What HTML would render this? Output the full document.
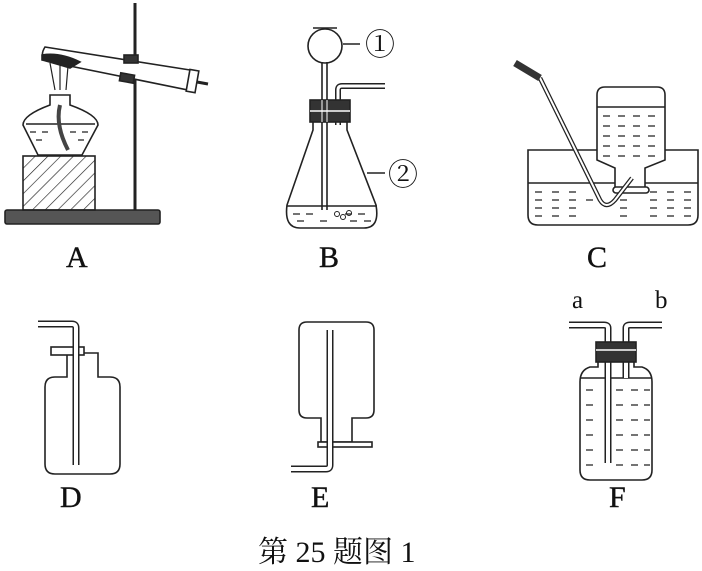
<!DOCTYPE html>
<html><head><meta charset="utf-8"><style>
html,body{margin:0;padding:0;background:#fff;}
svg{display:block}
text{font-family:"Liberation Serif","Noto Serif CJK SC",serif;fill:#111}
</style></head><body>
<svg width="702" height="571" viewBox="0 0 702 571" xmlns="http://www.w3.org/2000/svg">
<defs>
<pattern id="hatch" width="9" height="9" patternUnits="userSpaceOnUse" patternTransform="rotate(45)">
<line x1="0" y1="0" x2="0" y2="9" stroke="#222" stroke-width="1.3"/></pattern>
</defs>
<g fill="none" stroke="#222" stroke-width="1.6">
<!-- A -->
<rect x="5" y="210" width="155" height="14" fill="#555" rx="2"/>
<rect x="23" y="156" width="72" height="54" fill="url(#hatch)"/>
<line x1="135" y1="3" x2="135" y2="210" stroke-width="3"/>
<path d="M50 95 L70 95 L70 105 Q98 115 98 125 L82 155 L38 155 L23 125 Q23 115 50 105 Z" fill="#fff"/>
<line x1="26" y1="124" x2="95" y2="124"/>
<path d="M30 132h6M42 132h6M70 132h6M82 132h6M36 140h6M78 140h6" stroke-width="1.2"/>
<path d="M60 105 Q55 125 68 150" stroke-width="4" stroke="#444"/>
<path d="M45 47 L190 70 L188 90 L50 62 Q38 58 45 47 Z" fill="#fff"/>
<path d="M42 55 Q60 52 80 62 L70 68 Q50 62 42 60Z" fill="#222"/>
<path d="M50 63 L55 90 M60 64 L60 90 M68 66 L66 90" stroke-width="1.2"/>
<rect x="188" y="70" width="9" height="22" fill="#fff" transform="rotate(10 192 81)"/>
<line x1="197" y1="82" x2="208" y2="84" stroke-width="3"/>
<rect x="124" y="55" width="14" height="8" fill="#333"/>
<rect x="120" y="74" width="14" height="8" fill="#333" transform="rotate(10 127 78)"/>
<!-- B -->
<line x1="313" y1="28" x2="337" y2="28"/>
<circle cx="325" cy="46" r="17" fill="#fff"/>
<line x1="343" y1="44" x2="360" y2="44"/>
<path d="M313 122 L313 130 L287 205 Q284 228 300 228 L364 228 Q380 228 376 205 L347 130 L347 122" fill="#fff"/>
<line x1="287" y1="206" x2="377" y2="206"/>
<path d="M293 214h7M306 214h7M345 214h7M358 214h7M297 221h7M320 221h7M350 221h7M364 221h7" stroke-width="1.2"/>
<circle cx="337" cy="214" r="2.5" stroke-width="1"/><circle cx="343" cy="217" r="2.5" stroke-width="1"/><circle cx="349" cy="213" r="2.5" stroke-width="1"/>
<line x1="322" y1="62" x2="322" y2="210"/><line x1="327" y1="62" x2="327" y2="210"/>
<path d="M338 125 L338 90 Q338 86 342 86 L385 86" stroke-width="6"/>
<path d="M338 125 L338 90 Q338 86 342 86 L385 86" stroke="#fff" stroke-width="3"/>
<rect x="310" y="100" width="40" height="22" fill="#333"/>
<line x1="310" y1="111" x2="350" y2="111" stroke="#ccc" stroke-width="2"/>
<line x1="322" y1="100" x2="322" y2="122" stroke="#fff" stroke-width="1"/>
<line x1="327" y1="100" x2="327" y2="122" stroke="#fff" stroke-width="1"/>
<line x1="367" y1="173" x2="385" y2="173"/>
<!-- C -->
<path d="M528 150 L528 215 Q528 225 538 225 L688 225 Q698 225 698 215 L698 150 Z" fill="#fff"/>
<line x1="528" y1="183" x2="698" y2="183"/>
<path d="M597 160 L597 95 Q597 87 605 87 L657 87 Q665 87 665 95 L665 160 L645 168 L645 190 L615 190 L615 168 Z" fill="#fff"/>
<line x1="597" y1="107" x2="665" y2="107"/>
<g stroke-width="1.2">
<path d="M603 116h7M618 116h7M633 116h7M648 116h7M603 126h7M618 126h7M633 126h7M648 126h7M603 136h7M618 136h7M633 136h7M648 136h7M603 146h7M618 146h7M633 146h7M648 146h7M603 156h7M618 156h7M633 156h7M648 156h7"/>
<path d="M535 192h7M552 192h7M569 192h7M650 192h7M667 192h7M684 192h7M535 200h7M552 200h7M569 200h7M586 200h7M620 200h7M650 200h7M667 200h7M684 200h7M535 208h7M552 208h7M569 208h7M620 208h7M650 208h7M667 208h7M684 208h7M535 216h7M552 216h7M569 216h7M620 216h7M650 216h7M667 216h7M684 216h7"/>
</g>
<rect x="613" y="187" width="36" height="6" rx="3" fill="#fff"/>
<path d="M540 78 L600 200 Q606 210 615 200 L632 178" stroke-width="4.5"/>
<path d="M540 78 L600 200 Q606 210 615 200 L632 178" stroke="#fff" stroke-width="2"/>
<path d="M515 63 L540 78" stroke="#333" stroke-width="7"/>
<!-- D -->
<path d="M67 353 L67 377 L55 377 Q45 377 45 387 L45 464 Q45 474 55 474 L110 474 Q120 474 120 464 L120 387 Q120 377 110 377 L98 377 L98 353 Z" fill="#fff"/>
<rect x="51" y="347" width="33" height="8" fill="#fff"/>
<path d="M76 465 L76 328 Q76 324 72 324 L38 324" stroke-width="7"/>
<path d="M76 465 L76 328 Q76 324 72 324 L38 324" stroke="#fff" stroke-width="4"/>
<!-- E -->
<path d="M299 330 Q299 322 307 322 L366 322 Q374 322 374 330 L374 410 Q374 418 366 418 L352 418 L352 442 L321 442 L321 418 L307 418 Q299 418 299 410 Z" fill="#fff"/>
<rect x="318" y="442" width="54" height="5" fill="#fff"/>
<path d="M330 330 L330 465 Q330 469 326 469 L291 469" stroke-width="7"/>
<path d="M330 330 L330 465 Q330 469 326 469 L291 469" stroke="#fff" stroke-width="4"/>
<!-- F -->
<path d="M598 362 L598 367 L590 367 Q580 370 580 382 L580 470 Q580 480 590 480 L642 480 Q652 480 652 470 L652 382 Q652 370 642 367 L634 367 L634 362" fill="#fff"/>
<line x1="581" y1="378" x2="651" y2="378"/>
<g stroke-width="1.2">
<path d="M586 390h7M616 390h7M631 390h7M644 390h6M586 405h7M616 405h7M631 405h7M644 405h6M586 420h7M616 420h7M631 420h7M644 420h6M586 435h7M616 435h7M631 435h7M644 435h6M586 450h7M616 450h7M631 450h7M644 450h6M586 465h7M616 465h7M631 465h7M644 465h6"/>
</g>
<path d="M608 463 L608 328 Q608 325 604 325 L569 325" stroke-width="7"/>
<path d="M608 463 L608 328 Q608 325 604 325 L569 325" stroke="#fff" stroke-width="4"/>
<path d="M626 378 L626 328 Q626 325 630 325 L662 325" stroke-width="7"/>
<path d="M626 378 L626 328 Q626 325 630 325 L662 325" stroke="#fff" stroke-width="4"/>
<rect x="596" y="342" width="40" height="20" fill="#333"/>
<line x1="596" y1="350" x2="636" y2="350" stroke="#ccc" stroke-width="2"/>
</g>
<g font-size="30" stroke="#111" stroke-width="0.4">
<text x="66" y="267">A</text>
<text x="319" y="267">B</text>
<text x="587" y="267">C</text>
<text x="60" y="507">D</text>
<text x="311" y="507">E</text>
<text x="609" y="507">F</text>
</g>
<g>
<text x="572" y="308" font-size="25">a</text>
<text x="655" y="308" font-size="25">b</text>
<text x="365" y="55" font-size="30">①</text>
<text x="388" y="185" font-size="30">②</text>
<text x="258" y="562" font-size="30">第 25 题图 1</text>
</g>
</svg>
</body></html>
